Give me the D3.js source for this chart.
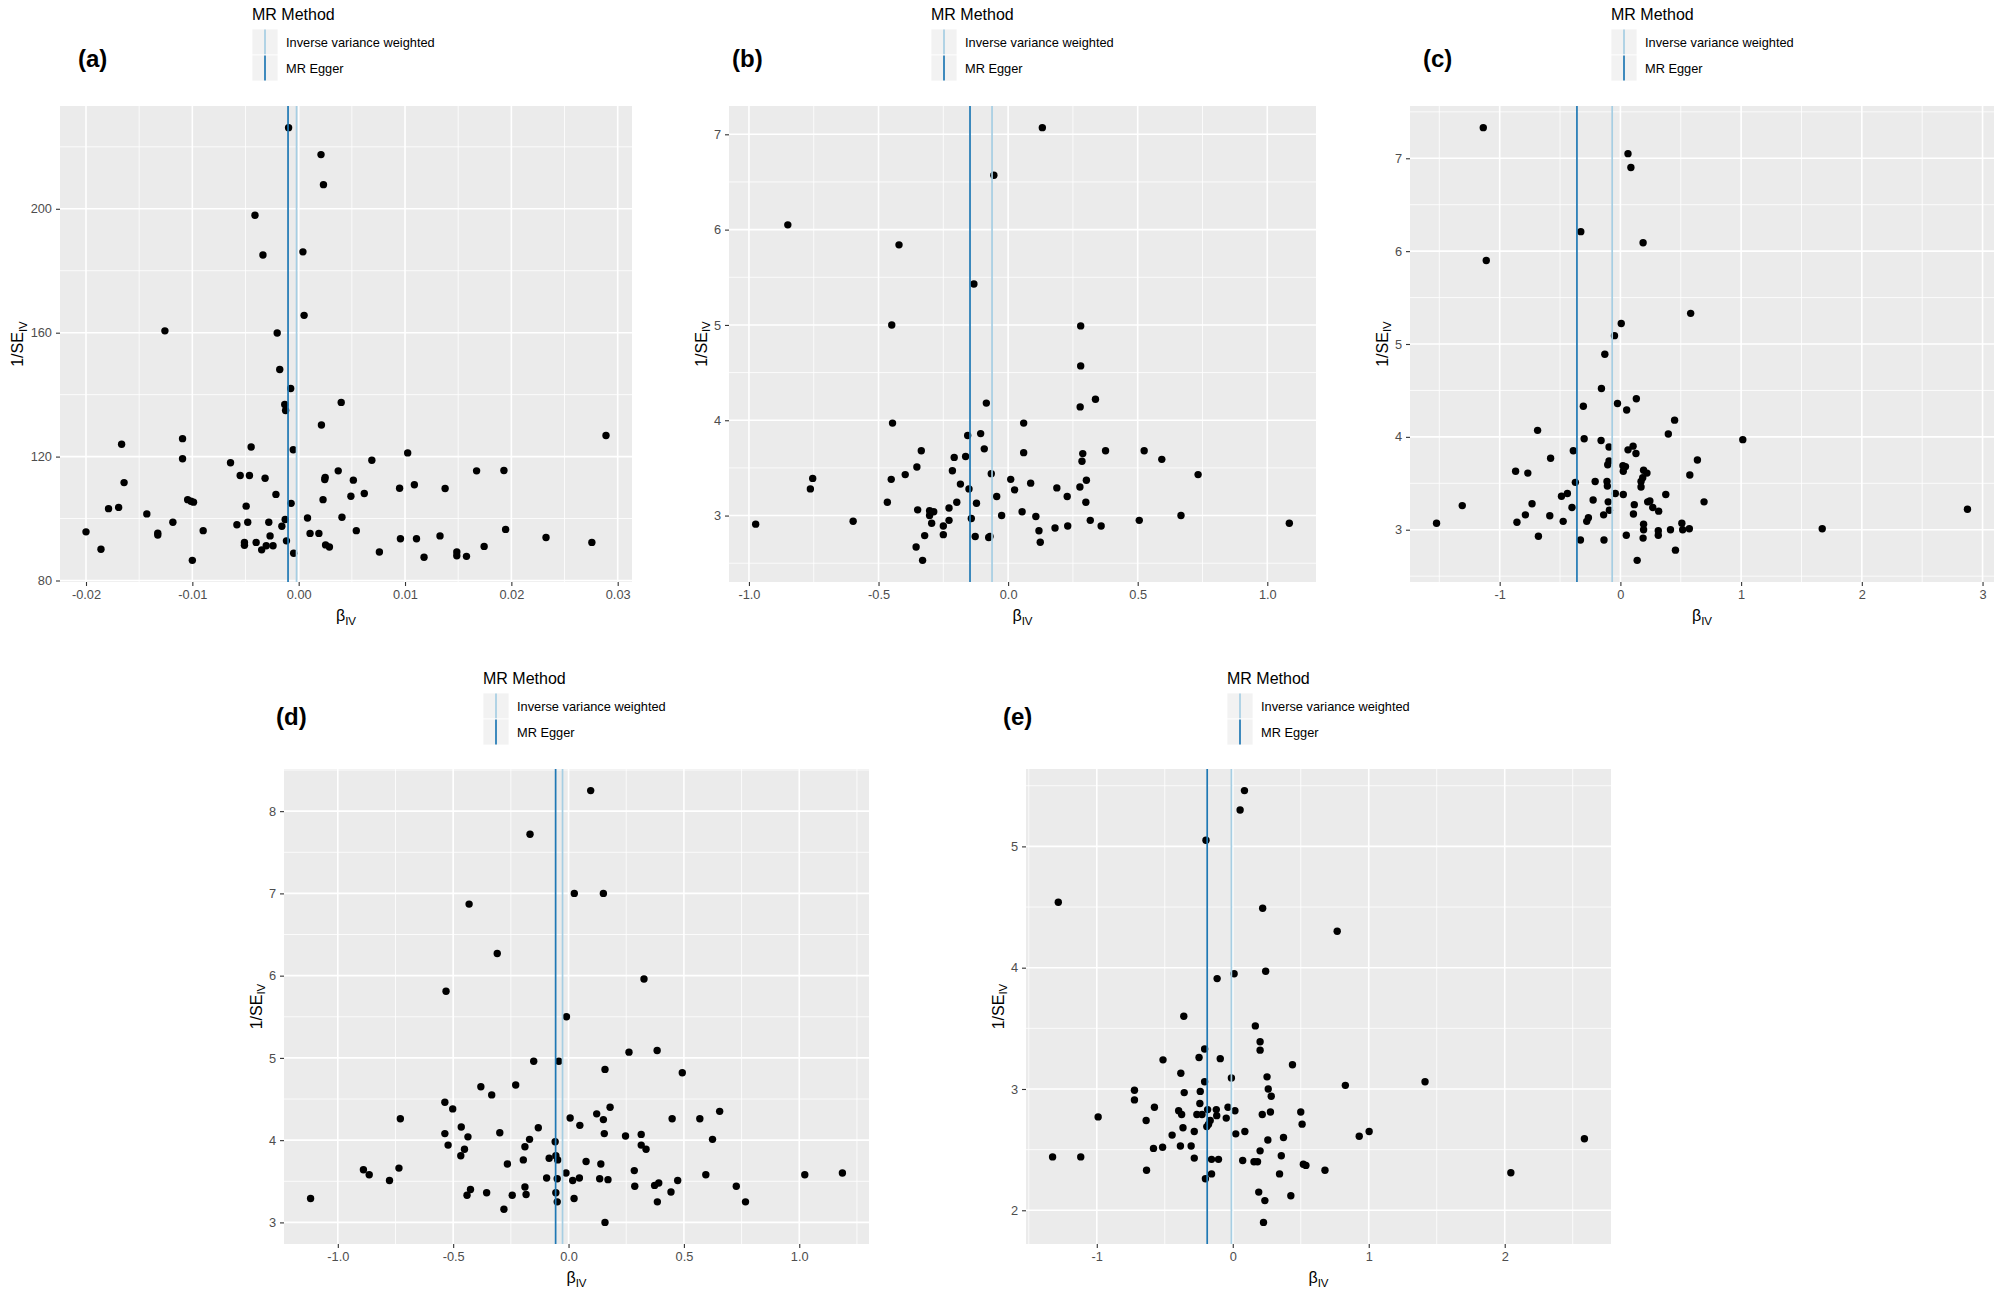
<!DOCTYPE html>
<html>
<head>
<meta charset="utf-8">
<script src="https://cdn.jsdelivr.net/npm/d3@7"></script>
<style>
  html, body { margin: 0; padding: 0; background: #ffffff; }
  svg { display: block; font-family: "Liberation Sans", Arial, Helvetica, sans-serif; }
</style>
</head>
<body>
<svg id="chart" width="2000" height="1293"></svg>
<script>
// ---------------- DATA ----------------
const methods = ["Inverse variance weighted", "MR Egger"];
const methodColors = ["#a6cee3", "#1f78b4"];

// Panel (a)
const betaA = [-0.00095,0.0021,0.00233,-0.00411,-0.00336,0.0004,0.00051,-0.01258,-0.00202,-0.00178,-0.00075,-0.00131,-0.00123,0.0040,0.00214,0.0289,-0.01665,-0.01092,-0.01092,-0.00447,-0.00051,0.01025,0.00688,-0.00641,-0.01642,-0.0055,-0.00463,-0.00316,0.00372,0.00249,0.00245,0.00514,0.01673,0.0193,0.00949,0.01088,0.01377,0.00617,0.00491,-0.00214,-0.01044,-0.01013,-0.00989,0.00229,-0.00071,-0.00494,-0.01788,-0.01693,-0.01428,-0.01183,-0.00581,-0.00479,-0.00281,-0.00158,-0.00127,0.00083,0.00407,-0.0200,-0.01325,-0.01325,-0.00898,0.00107,0.0019,0.00542,0.01946,-0.00269,-0.0051,-0.0051,-0.0040,-0.00115,0.00957,0.01108,0.01329,0.02326,0.02757,-0.01859,-0.00348,-0.00305,-0.00241,0.00253,0.00289,-0.00047,0.00759,0.01487,0.01487,0.01744,0.01179,0.01578,-0.0100];
const invSeA = [226.2,217.5,207.8,197.9,185.1,186.1,165.6,160.6,159.9,148.1,142.0,136.8,134.9,137.5,130.2,126.8,124.0,125.8,119.3,123.1,122.2,121.2,118.8,118.0,111.6,113.9,113.9,113.0,115.4,113.3,112.6,112.4,115.4,115.5,109.8,110.9,109.7,108.1,107.2,107.8,106.1,105.6,105.3,106.1,104.9,104.0,103.2,103.6,101.5,98.8,98.0,98.8,98.8,97.5,99.7,100.2,100.4,95.7,95.3,94.7,96.1,95.2,95.2,96.1,96.5,94.4,92.3,91.4,92.3,92.8,93.5,93.5,94.4,93.9,92.3,90.1,89.9,91.2,91.2,91.5,90.8,88.8,89.2,89.2,88.0,91.0,87.5,87.8,86.5];
const estimatesA = [-0.0002, -0.001];
const xTicksA = [-0.02, -0.01, 0, 0.01, 0.02, 0.03];
const xTickLabelsA = ["-0.02", "-0.01", "0.00", "0.01", "0.02", "0.03"];
const yTicksA = [80, 120, 160, 200];
const yTickLabelsA = ["80", "120", "160", "200"];

// Panel (b)
const betaB = [0.132,-0.055,-0.85,-0.421,-0.132,-0.449,0.280,0.280,0.337,0.278,-0.084,-0.446,0.060,-0.156,-0.106,-0.092,-0.335,-0.208,-0.164,0.060,0.288,0.285,0.376,0.525,0.593,0.733,-0.352,-0.215,-0.065,-0.754,-0.763,-0.397,-0.451,0.010,-0.184,-0.151,0.087,0.025,0.188,0.277,0.302,0.228,-0.044,-0.122,-0.198,-0.466,0.300,-0.349,-0.303,-0.287,-0.228,-0.303,0.054,-0.025,0.667,0.107,-0.142,-0.228,-0.295,-0.598,-0.974,0.317,0.506,1.085,-0.250,0.181,0.230,0.359,0.119,0.124,-0.322,-0.250,-0.127,-0.075,-0.070,-0.355,-0.330];
const invSeB = [7.07,6.57,6.05,5.84,5.43,5.00,4.99,4.57,4.22,4.14,4.18,3.97,3.97,3.84,3.86,3.70,3.68,3.61,3.62,3.66,3.65,3.57,3.68,3.68,3.59,3.43,3.51,3.47,3.44,3.39,3.28,3.43,3.38,3.38,3.33,3.28,3.34,3.27,3.29,3.30,3.37,3.20,3.20,3.13,3.14,3.14,3.14,3.06,3.05,3.04,3.08,3.00,3.04,3.00,3.00,2.99,2.97,2.95,2.92,2.94,2.91,2.95,2.95,2.92,2.89,2.87,2.89,2.89,2.84,2.72,2.79,2.80,2.78,2.77,2.78,2.67,2.53];
const estimatesB = [-0.062, -0.147];
const xTicksB = [-1, -0.5, 0, 0.5, 1];
const xTickLabelsB = ["-1.0", "-0.5", "0.0", "0.5", "1.0"];
const yTicksB = [3, 4, 5, 6, 7];
const yTickLabelsB = ["3", "4", "5", "6", "7"];

// Panel (c)
const betaC = [-1.136,-1.111,0.063,0.087,-0.328,0.188,0.582,0.007,-0.049,-0.129,-0.157,0.132,-0.307,-0.024,0.052,0.449,-0.686,0.397,1.014,-0.300,-0.160,-0.390,-0.094,0.063,0.105,0.129,-0.578,0.638,-0.094,-0.105,0.021,0.042,0.024,0.192,0.220,-0.868,-0.767,0.575,0.185,0.171,0.171,-0.373,-0.209,-0.111,-0.108,-0.488,-0.439,-0.042,0.024,0.376,-0.226,-0.101,0.226,0.244,0.693,-0.732,-1.310,-0.401,0.115,0.268,0.317,-0.091,2.875,-0.787,-0.139,0.108,-0.585,-0.265,-0.279,-0.857,-0.474,-1.523,0.509,0.192,0.192,0.415,0.516,0.571,1.672,0.314,0.314,0.049,-0.679,0.188,-0.331,-0.136,0.456,0.139];
const invSeC = [7.33,5.90,7.05,6.90,6.21,6.09,5.33,5.22,5.09,4.89,4.52,4.41,4.33,4.36,4.29,4.18,4.07,4.03,3.97,3.98,3.96,3.85,3.89,3.86,3.90,3.82,3.77,3.75,3.74,3.70,3.69,3.68,3.63,3.64,3.61,3.63,3.61,3.59,3.56,3.52,3.46,3.51,3.52,3.52,3.47,3.36,3.39,3.39,3.38,3.38,3.32,3.30,3.30,3.31,3.30,3.28,3.26,3.24,3.27,3.24,3.20,3.21,3.22,3.16,3.16,3.17,3.15,3.13,3.09,3.08,3.09,3.07,3.07,3.06,3.00,3.00,3.00,3.01,3.01,2.99,2.94,2.94,2.93,2.91,2.89,2.89,2.78,2.67];
const estimatesC = [-0.068, -0.36];
const xTicksC = [-1, 0, 1, 2, 3];
const xTickLabelsC = ["-1", "0", "1", "2", "3"];
const yTicksC = [3, 4, 5, 6, 7];
const yTickLabelsC = ["3", "4", "5", "6", "7"];

// Panel (d)
const betaD = [0.096,-0.167,0.025,0.151,-0.431,-0.309,0.327,-0.531,-0.009,0.262,0.384,-0.151,-0.042,0.158,0.493,-0.380,-0.229,-0.333,-0.536,-0.502,0.180,-0.729,0.007,0.122,0.151,0.449,0.569,0.655,-0.465,-0.131,0.049,-0.536,-0.298,-0.436,0.155,0.247,0.315,0.624,-0.169,-0.058,-0.522,-0.451,-0.189,0.315,0.336,-0.467,-0.055,-0.047,-0.084,-0.196,0.076,0.140,-0.265,-0.889,-0.735,0.285,-0.864,-0.011,0.595,1.024,1.187,-0.776,-0.095,-0.049,0.018,0.047,0.135,0.171,0.473,0.287,0.373,0.391,0.727,-0.189,-0.425,-0.355,-0.440,-0.244,-0.184,-0.055,0.444,-1.118,0.024,-0.049,0.385,0.767,-0.280,0.158];
const invSeD = [8.25,7.72,7.00,7.00,6.87,6.27,5.96,5.81,5.50,5.07,5.09,4.96,4.96,4.86,4.82,4.65,4.67,4.55,4.46,4.38,4.40,4.26,4.27,4.32,4.25,4.26,4.26,4.35,4.16,4.15,4.18,4.08,4.09,4.04,4.08,4.05,4.07,4.01,4.01,3.98,3.94,3.89,3.92,3.94,3.89,3.81,3.81,3.76,3.78,3.76,3.74,3.71,3.71,3.64,3.66,3.63,3.58,3.60,3.58,3.58,3.60,3.51,3.54,3.53,3.51,3.54,3.53,3.52,3.51,3.44,3.45,3.48,3.44,3.43,3.40,3.36,3.33,3.33,3.34,3.36,3.37,3.29,3.29,3.25,3.25,3.25,3.16,3.00];
const estimatesD = [-0.026, -0.056];
const xTicksD = [-1, -0.5, 0, 0.5, 1];
const xTickLabelsD = ["-1.0", "-0.5", "0.0", "0.5", "1.0"];
const yTicksD = [3, 4, 5, 6, 7, 8];
const yTickLabelsD = ["3", "4", "5", "6", "7", "8"];

// Panel (e)
const betaE = [0.086,0.054,-0.197,-1.283,0.220,0.768,0.242,0.010,-0.115,-0.360,0.166,0.201,0.201,-0.207,-0.248,-0.092,-0.513,0.439,-0.382,0.252,-0.010,-0.207,1.414,0.828,-0.723,-0.239,-0.357,0.261,0.283,-0.723,-0.242,-0.576,-0.398,-0.185,-0.121,-0.035,0.016,-0.376,-0.264,-0.226,-0.118,0.217,0.277,0.500,-0.990,-0.048,-0.166,-0.637,0.510,-0.178,-0.191,-0.366,0.089,1.003,-0.283,0.022,-0.446,0.930,0.373,2.586,0.258,-0.583,-0.516,-0.385,-0.306,0.201,-1.325,-1.118,-0.283,0.357,-0.156,-0.105,0.073,0.156,0.182,0.519,0.538,-0.634,0.678,-0.156,0.344,2.045,-0.201,0.191,0.427,0.236,0.226];
const invSeE = [5.46,5.30,5.05,4.54,4.49,4.30,3.97,3.95,3.91,3.60,3.52,3.39,3.32,3.33,3.26,3.25,3.24,3.20,3.13,3.10,3.09,3.06,3.06,3.03,2.99,2.98,2.97,3.00,2.94,2.91,2.88,2.85,2.82,2.83,2.83,2.85,2.82,2.79,2.79,2.79,2.78,2.79,2.81,2.81,2.77,2.76,2.74,2.74,2.71,2.71,2.69,2.68,2.65,2.65,2.65,2.63,2.62,2.61,2.60,2.59,2.58,2.51,2.52,2.53,2.53,2.49,2.44,2.44,2.43,2.45,2.42,2.42,2.41,2.40,2.40,2.38,2.37,2.33,2.33,2.30,2.30,2.31,2.26,2.15,2.12,2.08,1.90];
const estimatesE = [-0.010, -0.188];
const xTicksE = [-1, 0, 1, 2];
const xTickLabelsE = ["-1", "0", "1", "2"];
const yTicksE = [2, 3, 4, 5];
const yTickLabelsE = ["2", "3", "4", "5"];

const panelLabels = ["(a)", "(b)", "(c)", "(d)", "(e)"];

// ---------------- LAYOUT (positions only) ----------------
const layout = [
  {L: 60,   R: 632,  T: 106, B: 582,  legX: 252,  legY: 20,  labX: 78,   labY: 67},
  {L: 729,  R: 1316, T: 106, B: 582,  legX: 931,  legY: 20,  labX: 732,  labY: 67},
  {L: 1410, R: 1994, T: 106, B: 582,  legX: 1611, legY: 20,  labX: 1423, labY: 67},
  {L: 284,  R: 869,  T: 769, B: 1244, legX: 483,  legY: 684, labX: 276,  labY: 725},
  {L: 1026, R: 1611, T: 769, B: 1244, legX: 1227, legY: 684, labX: 1003, labY: 725}
];

const panelData = [
  {x: betaA, y: invSeA, est: estimatesA, xt: xTicksA, xl: xTickLabelsA, yt: yTicksA, yl: yTickLabelsA},
  {x: betaB, y: invSeB, est: estimatesB, xt: xTicksB, xl: xTickLabelsB, yt: yTicksB, yl: yTickLabelsB},
  {x: betaC, y: invSeC, est: estimatesC, xt: xTicksC, xl: xTickLabelsC, yt: yTicksC, yl: yTickLabelsC},
  {x: betaD, y: invSeD, est: estimatesD, xt: xTicksD, xl: xTickLabelsD, yt: yTicksD, yl: yTickLabelsD},
  {x: betaE, y: invSeE, est: estimatesE, xt: xTicksE, xl: xTickLabelsE, yt: yTicksE, yl: yTickLabelsE}
];

// ---------------- DRAW ----------------
const svg = d3.select("#chart");
svg.append("rect").attr("width", 2000).attr("height", 1293).attr("fill", "#ffffff");

function expand(arr) {
  const [lo, hi] = d3.extent(arr);
  const pad = (hi - lo) * 0.05;
  return [lo - pad, hi + pad];
}
function minorBreaks(ticks, domain) {
  const step = ticks[1] - ticks[0];
  const out = [];
  for (let v = ticks[0] - step / 2; v <= ticks[ticks.length - 1] + step / 2 + 1e-9; v += step) {
    if (v >= domain[0] && v <= domain[1]) out.push(v);
  }
  return out;
}

panelData.forEach((pd, i) => {
  const lo = layout[i];
  const g = svg.append("g");
  const xDom = expand(pd.x), yDom = expand(pd.y);
  const x = d3.scaleLinear().domain(xDom).range([lo.L, lo.R]);
  const y = d3.scaleLinear().domain(yDom).range([lo.B, lo.T]);

  // background
  g.append("rect").attr("x", lo.L).attr("y", lo.T)
    .attr("width", lo.R - lo.L).attr("height", lo.B - lo.T).attr("fill", "#EBEBEB");

  // minor grid
  g.selectAll(null).data(minorBreaks(pd.xt, xDom)).join("line")
    .attr("x1", d => x(d)).attr("x2", d => x(d)).attr("y1", lo.T).attr("y2", lo.B)
    .attr("stroke", "#ffffff").attr("stroke-width", 0.8);
  g.selectAll(null).data(minorBreaks(pd.yt, yDom)).join("line")
    .attr("y1", d => y(d)).attr("y2", d => y(d)).attr("x1", lo.L).attr("x2", lo.R)
    .attr("stroke", "#ffffff").attr("stroke-width", 0.8);
  // major grid
  g.selectAll(null).data(pd.xt).join("line")
    .attr("x1", d => x(d)).attr("x2", d => x(d)).attr("y1", lo.T).attr("y2", lo.B)
    .attr("stroke", "#ffffff").attr("stroke-width", 1.6);
  g.selectAll(null).data(pd.yt).join("line")
    .attr("y1", d => y(d)).attr("y2", d => y(d)).attr("x1", lo.L).attr("x2", lo.R)
    .attr("stroke", "#ffffff").attr("stroke-width", 1.6);

  // points
  const pts = pd.x.map((v, k) => ({b: v, s: pd.y[k]}));
  g.selectAll(null).data(pts).join("circle")
    .attr("cx", d => x(d.b)).attr("cy", d => y(d.s)).attr("r", 3.7).attr("fill", "#000000");

  // method lines
  g.selectAll(null).data(pd.est).join("line")
    .attr("x1", d => x(d)).attr("x2", d => x(d)).attr("y1", lo.T).attr("y2", lo.B)
    .attr("stroke", (d, k) => methodColors[k]).attr("stroke-width", 1.7);

  // axes
  const xAxis = d3.axisBottom(x).tickValues(pd.xt).tickFormat((d, k) => pd.xl[k])
    .tickSize(4).tickPadding(4);
  const xg = g.append("g").attr("transform", `translate(0,${lo.B})`).call(xAxis);
  const yAxis = d3.axisLeft(y).tickValues(pd.yt).tickFormat((d, k) => pd.yl[k])
    .tickSize(4).tickPadding(4);
  const yg = g.append("g").attr("transform", `translate(${lo.L},0)`).call(yAxis);
  [xg, yg].forEach(ag => {
    ag.select(".domain").remove();
    ag.selectAll(".tick line").attr("stroke", "#333333").attr("stroke-width", 1.1);
    ag.selectAll(".tick text").attr("fill", "#4D4D4D")
      .style("font-size", "12.8px").style("font-family", "'Liberation Sans', Arial, sans-serif");
  });

  // axis titles
  const xt = g.append("text").attr("x", (lo.L + lo.R) / 2).attr("y", lo.B + 39)
    .attr("text-anchor", "middle").attr("fill", "#000").style("font-size", "16px");
  xt.append("tspan").text("β");
  xt.append("tspan").attr("dy", 3.5).style("font-size", "11.5px").text("IV");

  const yb = yg.node().getBBox();
  const cx = lo.L + yb.x - 13;
  const cy = (lo.T + lo.B) / 2;
  const yt = g.append("text")
    .attr("transform", `translate(${cx + 5.8},${cy}) rotate(-90)`)
    .attr("text-anchor", "middle").attr("fill", "#000").style("font-size", "16px");
  yt.append("tspan").text("1/SE");
  yt.append("tspan").attr("dy", 3.5).style("font-size", "11.5px").text("IV");

  // legend
  const lg = g.append("g");
  lg.append("text").attr("x", lo.legX).attr("y", lo.legY).attr("fill", "#000")
    .style("font-size", "16px").text("MR Method");
  methods.forEach((m, k) => {
    const ky = lo.legY + 9 + k * 26;
    lg.append("rect").attr("x", lo.legX).attr("y", ky).attr("width", 26).attr("height", 26)
      .attr("fill", "#F2F2F2").attr("stroke", "#ffffff").attr("stroke-width", 0.8);
    lg.append("line").attr("x1", lo.legX + 13).attr("x2", lo.legX + 13)
      .attr("y1", ky + 0.5).attr("y2", ky + 25.5)
      .attr("stroke", methodColors[k]).attr("stroke-width", 1.7);
    lg.append("text").attr("x", lo.legX + 34).attr("y", ky + 13 + 4.6).attr("fill", "#000")
      .style("font-size", "12.8px").text(m);
  });

  // panel label
  g.append("text").attr("x", lo.labX).attr("y", lo.labY).attr("fill", "#000")
    .style("font-size", "24px").style("font-weight", "bold").text(panelLabels[i]);
});
</script>
</body>
</html>
